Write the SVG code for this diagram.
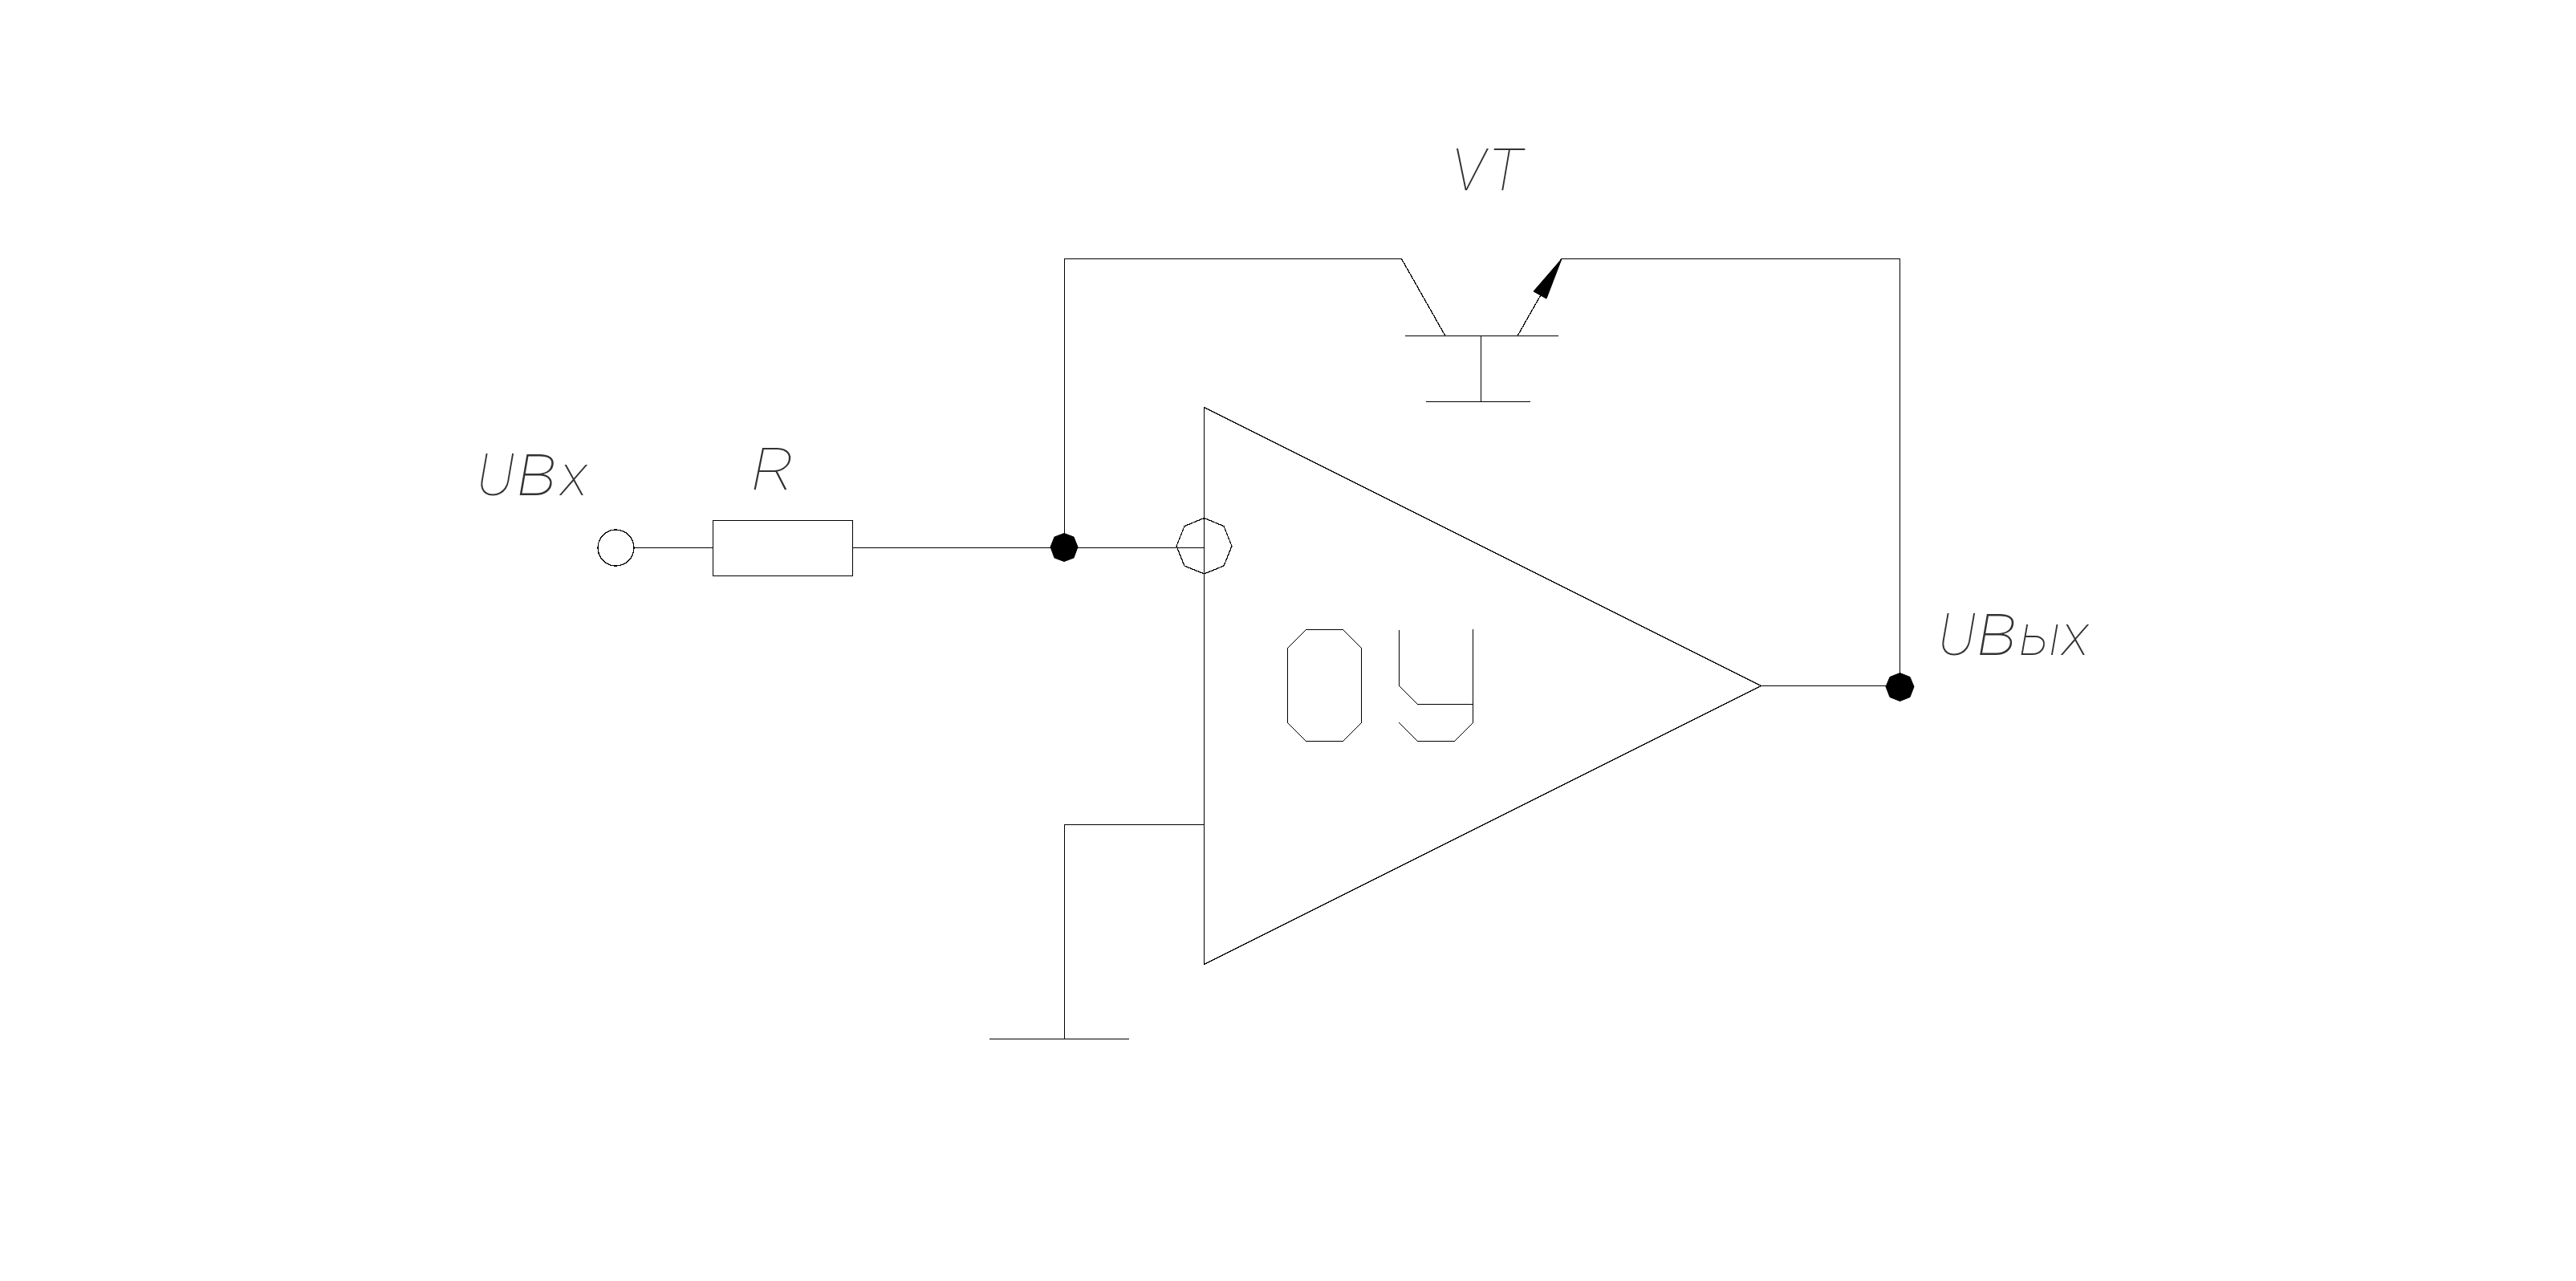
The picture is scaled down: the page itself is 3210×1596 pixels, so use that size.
<svg xmlns="http://www.w3.org/2000/svg" width="3210" height="1596" viewBox="0 0 3210 1596">
<style>
.l{fill:none;stroke:#000;stroke-width:1.25;shape-rendering:crispEdges}
.f{fill:#000;stroke:#000;stroke-width:1}
.t{font-family:"Roboto","Liberation Sans",sans-serif;font-weight:100;font-style:italic;font-size:73px;fill:#333}
</style>
<rect width="3210" height="1596" fill="#fff"/>
<g id="connectors">
<path class="l" d="M790.5 682.5H888.5M1062.5 682.5H1500.5"/>
<path class="l" d="M1326.5 682.5V322.5H1746.5"/>
<path class="l" d="M1945.5 322.5H2367.5V855.5"/>
<path class="l" d="M2194.5 854.5H2367.5"/>
<path class="l" d="M1500.5 1027.5H1326.5V1294.5"/>
</g>
<g id="input-terminal"><circle class="l" cx="767.5" cy="682.5" r="22.5"/></g>
<g id="resistor"><rect class="l" x="888.5" y="648.5" width="174" height="69"/>
<text class="t" x="936" y="610" textLength="54" lengthAdjust="spacingAndGlyphs">R</text></g>
<g id="label-in"><text class="t" x="594" y="617" textLength="138" lengthAdjust="spacing">U<tspan font-size="96">в</tspan>х</text></g>
<g id="junction-in"><polygon class="f" points="1326,664.5 1338,669 1343,681.5 1338,695 1326,699.5 1314,695 1309,681.5 1314,669"/></g>
<g id="junction-out"><polygon class="f" points="2367.5,838.5 2380,843.5 2385,855.5 2380,868.5 2367.5,873.5 2355,868.5 2350,855.5 2355,843.5"/></g>
<g id="label-out"><text class="t" x="2415" y="816" textLength="188" lengthAdjust="spacing">U<tspan font-size="96">в</tspan>ых</text></g>
<g id="opamp">
<polygon class="l" points="1500.5,507.5 2194.5,854.5 1500.5,1201.5"/>
<polygon class="l" points="1500.5,645.5 1525,655.5 1535,680.5 1525,705 1500.5,715 1476,705 1466,680.5 1476,655.5"/>
<polygon class="l" points="1627.5,784.5 1673.5,784.5 1696.5,807.5 1696.5,900.5 1673.5,923.5 1627.5,923.5 1604.5,900.5 1604.5,807.5"/>
<path class="l" d="M1743.5 785V854.5L1766.5 877.5H1835.5M1835.5 784V900.5L1812.5 923.5H1766.5L1743.5 900.5"/>
</g>
<g id="transistor">
<path class="l" d="M1746.5 322.5L1801 418.5M1751 418.5H1942M1845.5 418.5V500.5M1777 500.5H1907M1891 418.5L1945.5 322.5"/>
<polygon class="f" points="1946,322.5 1927,372 1911,363"/>
<text class="t" x="1809" y="237" textLength="88" lengthAdjust="spacing">VT</text>
</g>
<g id="ground"><path class="l" d="M1233 1294.5H1407"/></g>
</svg>
